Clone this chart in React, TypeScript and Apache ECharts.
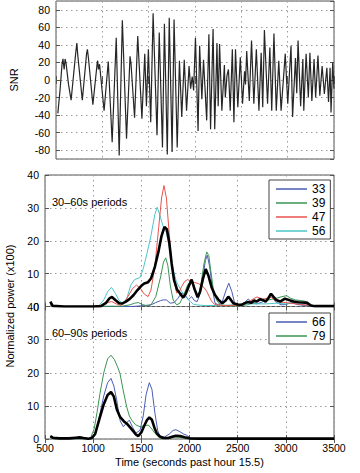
import React, { useEffect, useRef } from "react";
import * as echarts from "echarts";

// ---- data ----
const snr: [number, number][] = [
  [520, -38], [545, -10], [565, 18], [575, 24], [588, 12], [598, 24], [610, 18], [635, -5], [663, -23],
  [712, 30], [725, 42], [735, 28], [784, -23], [830, 30], [839, 35], [850, 25], [898, -28],
  [945, 20], [950, 22], [958, 12], [970, 18], [1019, -35], [1064, 21], [1106, -71], [1150, 48],
  [1182, -86], [1216, 68], [1261, -67], [1299, 27], [1310, 18], [1348, -43], [1382, 50], [1427, -44],
  [1458, 30], [1476, -30], [1497, 35], [1522, -48], [1548, 76], [1590, -63], [1614, 54], [1649, -77],
  [1670, 64], [1701, -85], [1722, 71], [1753, -82], [1774, 69], [1808, -77], [1832, 22], [1857, -42],
  [1884, 23], [1909, -35], [1936, 16], [1953, -10], [1970, 4], [1985, -12], [2005, 48], [2033, -58],
  [2050, 39], [2074, -22], [2092, 23], [2126, -46], [2150, 52], [2168, -56], [2195, 58], [2213, -56],
  [2237, 42], [2250, -30], [2265, 41], [2290, -35], [2317, 17], [2327, -20], [2345, 5], [2361, 12],
  [2380, -35], [2403, 35], [2420, -48], [2437, 35], [2462, -31], [2489, 26], [2513, -27], [2535, 10],
  [2545, -5], [2558, 33], [2586, -24], [2610, 45], [2635, -27], [2662, 35], [2690, -35], [2714, 31],
  [2731, -31], [2749, 57], [2783, -27], [2808, 37], [2828, -35], [2852, 53], [2877, -35], [2904, 22],
  [2929, -35], [2974, 30], [3001, -27], [3036, 39], [3053, -42], [3084, 25], [3098, -15], [3112, 45],
  [3140, -30], [3164, 24], [3174, -35], [3199, 30], [3223, -20], [3240, 31], [3261, -24], [3285, 24],
  [3302, -20], [3327, 28], [3347, -18], [3372, 16], [3396, -16], [3423, 14], [3441, -25], [3458, 14],
  [3468, -37], [3486, 20], [3500, -10],
];

const blue33: [number, number][] = [
  [555, 0.5], [600, 0], [1400, 0], [1500, 0.2], [1600, 0.5], [1650, 1.2], [1700, 1.8], [1728, 2],
  [1760, 2], [1800, 1], [1840, 1.2], [1880, 2.5], [1919, 4.1], [1950, 3.6], [1990, 2.1], [2022, 3],
  [2050, 1.8], [2080, 1.5], [2110, 4], [2140, 9], [2165, 14], [2185, 15.6], [2210, 12], [2240, 5],
  [2265, 1], [2300, 0.5], [2340, 1.5], [2380, 5], [2408, 7.1], [2440, 4.5], [2473, 0.5], [2520, 0.4],
  [2570, 1.2], [2611, 2.3], [2650, 1], [2700, 0.8], [2750, 1.3], [2800, 2], [2850, 3.6], [2890, 1.5],
  [2950, 0.5], [3000, 0.6], [3060, 1.2], [3120, 0.6], [3200, 0.3], [3300, 0.1], [3500, 0.1],
];
const green39: [number, number][] = [
  [555, 0.5], [600, 0], [1300, 0.1], [1380, 0.5], [1430, 1], [1469, 1.2], [1510, 0.6], [1560, 0.2],
  [1600, 0.5], [1650, 3], [1700, 9], [1730, 13.5], [1753, 14.8], [1775, 12.5], [1800, 6.5], [1830, 2],
  [1867, 0.5], [1900, 1], [1940, 3.5], [1980, 6.5], [2023, 8.2], [2050, 6], [2075, 3.5], [2092, 3],
  [2120, 7], [2150, 13], [2179, 16.6], [2200, 15.5], [2225, 10], [2248, 5.1], [2280, 2], [2317, 0.5],
  [2400, 0.2], [2500, 0.2], [2600, 0.5], [2700, 1.5], [2750, 2], [2800, 1.8], [2850, 2.2], [2900, 2.5],
  [2960, 3], [3009, 3.3], [3050, 2.5], [3100, 2], [3160, 1.8], [3217, 1.5], [3250, 0.8], [3290, 0.1],
  [3500, 0.1],
];
const red47: [number, number][] = [
  [555, 0.5], [600, 0], [1050, 0], [1100, 0.4], [1150, 1.2], [1192, 1.5], [1240, 0.8], [1290, 0.3],
  [1330, 1.5], [1370, 3.5], [1410, 5.5], [1450, 6.5], [1490, 5.5], [1530, 3.8], [1570, 3], [1600, 5],
  [1640, 12], [1680, 24], [1710, 33], [1735, 36.8], [1760, 33], [1790, 22], [1815, 13], [1845, 7],
  [1867, 4.1], [1895, 4.5], [1919, 6.1], [1950, 7.6], [1980, 8.2], [2010, 7.8], [2050, 7.3],
  [2090, 7], [2120, 6.5], [2150, 5.8], [2179, 4.6], [2205, 3], [2231, 1.5], [2260, 0.7], [2300, 0.4],
  [2400, 0.3], [2500, 0.4], [2560, 0.8], [2620, 1.5], [2660, 2.3], [2700, 2.9], [2730, 2.6],
  [2760, 2.2], [2800, 2.5], [2850, 2.8], [2880, 2], [2920, 1.5], [2960, 1.3], [3000, 1.2], [3050, 1],
  [3100, 0.8], [3200, 0.5], [3300, 0.2], [3500, 0.1],
];
const cyan56: [number, number][] = [
  [555, 0.5], [600, 0], [1000, 0], [1060, 0.3], [1110, 2], [1150, 4.5], [1190, 5.8], [1230, 4],
  [1270, 1.8], [1310, 0.9], [1350, 2.5], [1390, 6.5], [1430, 8.2], [1486, 8.8], [1520, 11.5],
  [1556, 15.8], [1600, 21.5], [1640, 28], [1665, 30.2], [1690, 28], [1725, 24.5], [1760, 22.5],
  [1790, 18], [1830, 11.2], [1865, 7.5], [1900, 5.6], [1935, 3.8], [1971, 2.5], [2010, 1.5],
  [2040, 0.7], [2075, 0.5], [2150, 0.3], [2300, 0.3], [2400, 0.4], [2500, 0.6], [2600, 0.8],
  [2700, 0.8], [2800, 0.8], [2900, 1], [3000, 0.8], [3100, 1.2], [3200, 0.9], [3260, 0.3],
  [3300, 0.1], [3500, 0.1],
];
const mean30: [number, number][] = [
  [555, 1.5], [580, 0.2], [700, 0], [1000, 0], [1080, 0.1], [1130, 1], [1170, 2.5], [1195, 2.9],
  [1230, 2], [1270, 1], [1300, 0.9], [1340, 1.5], [1380, 2.3], [1420, 3.5], [1460, 5], [1500, 6.3],
  [1530, 7], [1570, 7.4], [1600, 8.5], [1640, 12], [1680, 17], [1710, 21.5], [1740, 24.2],
  [1765, 23.5], [1790, 19.5], [1815, 13], [1840, 8], [1870, 5.2], [1900, 4], [1935, 2.7],
  [1960, 3.8], [1990, 6], [2022, 8.2], [2050, 5.5], [2085, 2.8], [2110, 4.5], [2140, 8.5],
  [2168, 11.4], [2195, 9.5], [2230, 5.8], [2265, 3.5], [2299, 2.1], [2340, 1.0], [2375, 1.8],
  [2403, 3], [2430, 2], [2455, 1.0], [2500, 0.6], [2540, 0.5], [2580, 1.1], [2610, 1.4], [2640, 1.1],
  [2670, 1.8], [2700, 1.5], [2730, 2.2], [2760, 2], [2790, 1.5], [2820, 2.6], [2846, 3.9],
  [2870, 3], [2900, 2], [2940, 1.5], [2991, 2.4], [3040, 1.9], [3080, 1.5], [3130, 1.3],
  [3180, 1.2], [3220, 1.1], [3260, 0.3], [3300, 0.1], [3500, 0.1],
];

const blue66: [number, number][] = [
  [555, 0.5], [600, 0.1], [980, 0], [1020, 1], [1071, 7.7], [1110, 13], [1150, 17], [1185, 18.3],
  [1215, 16], [1244, 11.8], [1280, 5.5], [1313, 3.7], [1345, 4.8], [1375, 5.7], [1410, 3.5],
  [1444, 1.8], [1486, 2.6], [1520, 7], [1550, 13.5], [1583, 17], [1610, 15], [1640, 8], [1670, 2.5],
  [1694, 0.9], [1740, 0.6], [1790, 1.5], [1830, 2.6], [1860, 2.8], [1900, 2.2], [1940, 1.5],
  [1967, 1.2], [2018, 0.1], [3500, 0.1],
];
const green79: [number, number][] = [
  [555, 0.5], [600, 0.1], [967, 0], [1010, 3], [1040, 8], [1071, 13.8], [1110, 20], [1150, 24.2],
  [1185, 25.3], [1220, 24], [1250, 22], [1278, 19.8], [1313, 14.5], [1348, 9.7], [1375, 7],
  [1400, 5.7], [1440, 4.3], [1486, 3.7], [1530, 4], [1573, 4.2], [1610, 3], [1642, 1.7], [1694, 0.2],
  [1800, 0.3], [1850, 0.6], [1900, 0.5], [1950, 0.2], [2000, 0], [3500, 0],
];
const mean60: [number, number][] = [
  [555, 0.9], [580, 0.4], [650, 0.2], [750, 0.2], [820, 0.4], [860, 0.5], [900, 0.3], [951, 0.1],
  [985, 0.3], [1020, 1.5], [1071, 6.7], [1110, 10.5], [1150, 13.3], [1185, 14.2], [1215, 12.8],
  [1245, 9], [1278, 6.7], [1320, 5.3], [1354, 4.5], [1390, 3.3], [1418, 2.3], [1445, 1.3],
  [1469, 0.9], [1500, 2], [1530, 4], [1560, 5.8], [1583, 6.5], [1610, 5.8], [1635, 3.5],
  [1659, 1.8], [1690, 0.8], [1728, 0.3], [1780, 0.3], [1820, 0.7], [1860, 1.0], [1900, 0.9],
  [1950, 0.5], [2000, 0.2], [2100, 0.1], [3500, 0.1],
];

const xTicksMin = 500;
const xTicksMax = 3500;
const legend30 = ["33", "39", "47", "56"];
const legend60 = ["66", "79"];

const FONT = "'Liberation Sans', Arial, Helvetica, sans-serif";
const C_BLUE = "#4a5cb5";
const C_GREEN = "#3a9455";
const C_RED = "#e8534c";
const C_CYAN = "#4cc6c9";

export default function App() {
  const ref = useRef<HTMLDivElement>(null);
  useEffect(() => {
    if (!ref.current) return;
    const chart = echarts.init(ref.current, undefined, { renderer: "svg" });
    const grids = [
      { left: 45, width: 289, top: 1, height: 158 },
      { left: 45, width: 289, top: 175, height: 131.5 },
      { left: 45, width: 289, top: 306.5, height: 132.5 },
    ].map((g) => ({ ...g, show: true, borderColor: "#555", borderWidth: 1, backgroundColor: "transparent" }));

    const split = { show: true, lineStyle: { color: "#9a9a9a", type: [1.5, 3.5], width: 1 } };
    const tick = { show: true, inside: true, length: 4, lineStyle: { color: "#555" } };
    const plain = (v: number) => String(v);

    const xMain = (gi: number, labels: boolean) => ({
      type: "value",
      gridIndex: gi,
      min: xTicksMin,
      max: xTicksMax,
      interval: 500,
      axisLine: { show: false },
      axisTick: tick,
      axisLabel: { show: labels, fontSize: 10.5, color: "#000", margin: 3, fontFamily: FONT, formatter: plain },
      splitLine: split,
      ...(labels
        ? {
            name: "Time (seconds past hour 15.5)",
            nameLocation: "middle",
            nameGap: 17,
            nameTextStyle: { fontSize: 11, color: "#000", fontFamily: FONT, verticalAlign: "top" },
          }
        : {}),
    });
    const xTop = (gi: number) => ({
      type: "value",
      gridIndex: gi,
      position: "top",
      min: xTicksMin,
      max: xTicksMax,
      interval: 500,
      axisLine: { show: false },
      axisTick: tick,
      axisLabel: { show: false },
      splitLine: { show: false },
    });
    const yRange = (gi: number) =>
      gi === 0 ? { min: -90, max: 90, splitNumber: 9 } : { min: 0, max: 40, interval: 10 };
    const yMain = (gi: number) => ({
      type: "value",
      gridIndex: gi,
      ...yRange(gi),
      axisLine: { show: false },
      axisTick: tick,
      axisLabel: {
        fontSize: 10.5,
        color: "#000",
        margin: 6,
        fontFamily: FONT,
        formatter: plain,
        showMinLabel: gi !== 0,
        showMaxLabel: gi !== 0,
      },
      splitLine: split,
      ...(gi === 0
        ? {
            name: "SNR",
            nameLocation: "middle",
            nameGap: 37,
            nameTextStyle: { fontSize: 11, color: "#000", fontFamily: FONT },
          }
        : {}),
    });
    const yRight = (gi: number) => ({
      type: "value",
      gridIndex: gi,
      position: "right",
      ...yRange(gi),
      axisLine: { show: false },
      axisTick: tick,
      axisLabel: { show: false },
      splitLine: { show: false },
    });

    const line = (name: string, data: [number, number][], gi: number, color: string, width: number) => ({
      type: "line",
      name,
      data,
      xAxisIndex: gi,
      yAxisIndex: gi,
      color,
      showSymbol: false,
      symbol: "none",
      lineStyle: { width, color },
    });

    const legendBase = {
      orient: "vertical",
      left: 269,
      icon: "rect",
      itemWidth: 31,
      itemHeight: 1.5,
      itemGap: 0,
      padding: [2, 5, 1, 7],
      borderColor: "#444",
      borderWidth: 1,
      backgroundColor: "#fff",
      textStyle: { fontSize: 12, color: "#000", lineHeight: 14, fontFamily: FONT },
    };

    chart.setOption({
      animation: false,
      textStyle: { fontFamily: FONT },
      grid: grids,
      xAxis: [xMain(0, false), xMain(1, false), xMain(2, true), xTop(0), xTop(1), xTop(2)],
      yAxis: [yMain(0), yMain(1), yMain(2), yRight(0), yRight(1), yRight(2)],
      legend: [
        { ...legendBase, top: 180, data: legend30 },
        { ...legendBase, top: 313, data: legend60 },
      ],
      series: [
        line("SNR", snr, 0, "#262626", 1.2),
        line(legend30[0], blue33, 1, C_BLUE, 1),
        line(legend30[1], green39, 1, C_GREEN, 1),
        line(legend30[3], cyan56, 1, C_CYAN, 1),
        line(legend30[2], red47, 1, C_RED, 1),
        line("mean 30-60", mean30, 1, "#000", 2.6),
        line(legend60[0], blue66, 2, C_BLUE, 1),
        line(legend60[1], green79, 2, C_GREEN, 1),
        line("mean 60-90", mean60, 2, "#000", 2.6),
      ],
      graphic: [
        {
          type: "text",
          x: 52,
          y: 202,
          style: { text: "30–60s periods", fontSize: 11, fill: "#000", verticalAlign: "middle", fontFamily: FONT },
        },
        {
          type: "text",
          x: 52,
          y: 333,
          style: { text: "60–90s periods", fontSize: 11, fill: "#000", verticalAlign: "middle", fontFamily: FONT },
        },
        {
          type: "text",
          x: 10,
          y: 306,
          rotation: Math.PI / 2,
          style: {
            text: "Normalized power (x100)",
            fontSize: 11,
            fill: "#000",
            align: "center",
            verticalAlign: "middle",
            fontFamily: FONT,
          },
        },
      ],
    });
    return () => chart.dispose();
  }, []);
  return <div ref={ref} style={{ position: "fixed", left: 0, top: 0, width: 360, height: 473, background: "#fff" }} />;
}
